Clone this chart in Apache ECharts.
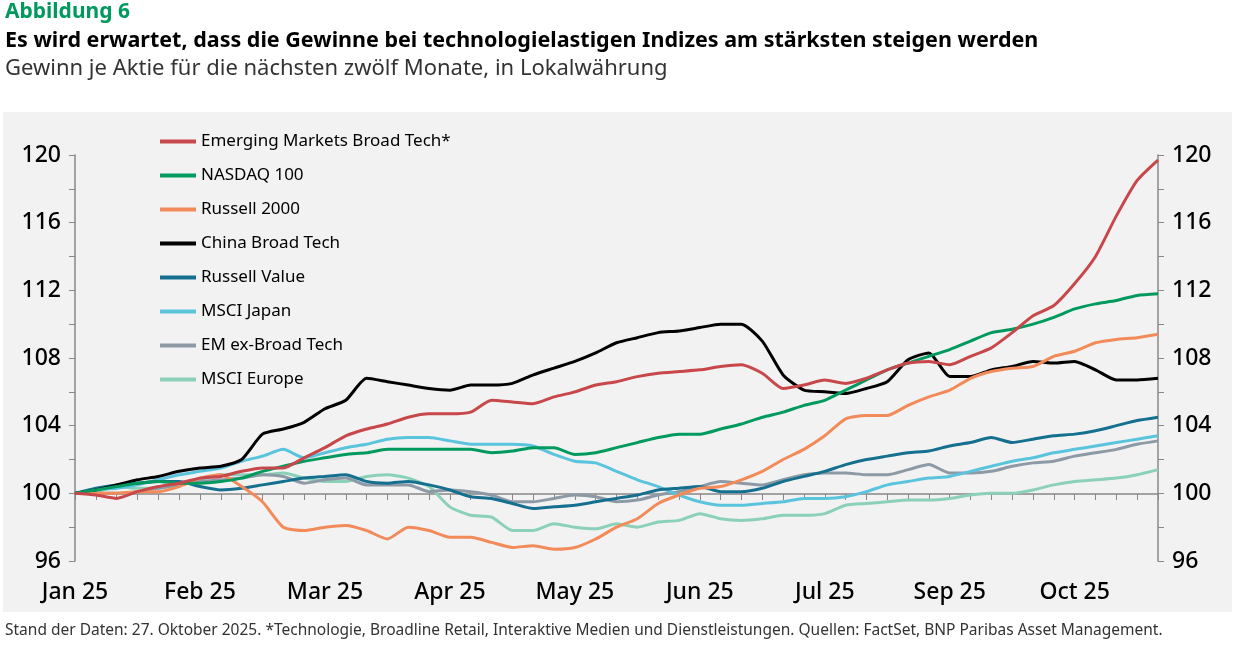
<!DOCTYPE html>
<html>
<head>
<meta charset="utf-8">
<script src="https://cdn.jsdelivr.net/npm/echarts@6/dist/echarts.min.js"></script>
<style>
html,body{margin:0;padding:0;background:#fff;}
#main{width:1234px;height:645px;}
</style>
</head>
<body>
<div id="main"></div>
<script>
var monthNames = ['Jan 25', 'Feb 25', 'Mar 25', 'Apr 25', 'May 25', 'Jun 25', 'Jul 25', 'Sep 25', 'Oct 25'];
var seriesNames = ['Emerging Markets Broad Tech*', 'NASDAQ 100', 'Russell 2000', 'China Broad Tech',
    'Russell Value', 'MSCI Japan', 'EM ex-Broad Tech', 'MSCI Europe'];
var colors = ['#c8474a', '#009a5e', '#f28a5a', '#000000', '#15708f', '#5bc4dd', '#8d9aa5', '#8bd0b8'];

var emTech = [100,99.9,99.7,100.1,100.4,100.6,100.9,101,101.3,101.5,101.5,102.1,102.7,103.4,103.8,104.1,104.5,104.7,104.7,104.8,
    105.5,105.4,105.3,105.7,106,106.4,106.6,106.9,107.1,107.2,107.3,107.5,107.6,107.1,106.2,106.4,106.7,106.5,106.8,107.3,
    107.7,107.8,107.6,108.1,108.6,109.5,110.5,111.1,112.4,114,116.4,118.5,119.7];
var nasdaq = [100,100.2,100.4,100.6,100.7,100.6,100.6,100.7,100.9,101.3,101.6,101.9,102.1,102.3,102.4,102.6,102.6,102.6,102.6,102.6,
    102.4,102.5,102.7,102.7,102.3,102.4,102.7,103,103.3,103.5,103.5,103.8,104.1,104.5,104.8,105.2,105.5,106.1,106.7,107.3,
    107.7,108.1,108.5,109,109.5,109.7,110,110.4,110.9,111.2,111.4,111.7,111.8];
var russell2000 = [100,100,100,100.1,100.1,100.4,100.9,101.1,100.4,99.5,98,97.8,98,98.1,97.8,97.3,98,97.8,97.4,97.4,
    97.1,96.8,96.9,96.7,96.8,97.3,98,98.5,99.4,99.9,100.3,100.4,100.8,101.3,102,102.6,103.4,104.4,104.6,104.6,
    105.2,105.7,106.1,106.8,107.2,107.4,107.5,108.1,108.4,108.9,109.1,109.2,109.4];
var chinaTech = [100,100.2,100.5,100.8,101,101.3,101.5,101.6,102,103.5,103.8,104.2,105,105.5,106.8,106.6,106.4,106.2,106.1,106.4,
    106.4,106.5,107,107.4,107.8,108.3,108.9,109.2,109.5,109.6,109.8,110,110,109,107,106.1,106,105.9,106.2,106.6,
    107.9,108.3,106.9,106.9,107.3,107.5,107.8,107.7,107.8,107.3,106.7,106.7,106.8];
var russellValue = [100,100.3,100.5,100.6,100.7,100.7,100.4,100.2,100.3,100.5,100.7,100.9,101,101.1,100.7,100.6,100.7,100.5,100.2,99.8,
    99.7,99.4,99.1,99.2,99.3,99.5,99.7,99.9,100.2,100.3,100.4,100.1,100.1,100.3,100.7,101,101.3,101.7,102,102.2,
    102.4,102.5,102.8,103,103.3,103,103.2,103.4,103.5,103.7,104,104.3,104.5];
var msciJapan = [100,100.2,100.3,100.5,100.8,101.1,101.3,101.5,101.9,102.2,102.6,102.1,102.4,102.7,102.9,103.2,103.3,103.3,103.1,102.9,
    102.9,102.9,102.8,102.3,101.9,101.8,101.3,100.8,100.4,99.9,99.5,99.3,99.3,99.4,99.5,99.7,99.7,99.8,100.1,100.5,
    100.7,100.9,101,101.3,101.6,101.9,102.1,102.4,102.6,102.8,103,103.2,103.4];
var emExTech = [100,100,100,100.1,100.3,100.5,100.7,100.8,100.9,101.1,101,100.6,100.8,100.9,100.5,100.5,100.5,100.1,100.2,100.1,
    99.9,99.5,99.5,99.7,99.9,99.8,99.5,99.6,99.9,100.1,100.4,100.7,100.6,100.5,100.8,101.1,101.2,101.2,101.1,101.1,
    101.4,101.7,101.2,101.2,101.3,101.6,101.8,101.9,102.2,102.4,102.6,102.9,103.1];
var msciEurope = [100,100.1,100.4,100.3,100.3,100.5,100.8,101.1,101.1,101.1,101.2,100.9,100.7,100.7,101,101.1,100.9,100.4,99.2,98.7,
    98.6,97.8,97.8,98.2,98,97.9,98.2,98,98.3,98.4,98.8,98.5,98.4,98.5,98.7,98.7,98.8,99.3,99.4,99.5,
    99.6,99.6,99.7,99.9,100,100,100.2,100.5,100.7,100.8,100.9,101.1,101.4];
var allData = [emTech, nasdaq, russell2000, chinaTech, russellValue, msciJapan, emExTech, msciEurope];

// category axis: 6 steps per month label
var categories = [];
for (var i = 0; i < 53; i++) {
    categories.push(i % 6 === 0 && monthNames[i / 6] ? monthNames[i / 6] : '');
}

var chart = echarts.init(document.getElementById('main'));
var series = [];
for (var k = 0; k < allData.length; k++) {
    series.push({
        name: seriesNames[k],
        type: 'line',
        data: allData[k],
        showSymbol: false,
        smooth: 0.2,
        lineStyle: {width: 3, color: colors[k]},
        itemStyle: {color: colors[k]},
        z: 10 - k
    });
}

var yAxisBase = {
    type: 'value', min: 96, max: 120, interval: 2,
    splitLine: {show: false},
    axisLine: {show: true, lineStyle: {color: '#888', width: 1.5}},
    axisTick: {show: true, length: 6, lineStyle: {color: '#888'}},
    axisLabel: {
        fontSize: 23, color: '#000', fontFamily: 'Noto Sans', fontWeight: 500, margin: 14,
        formatter: function (v) { return v % 4 === 0 ? v : ''; }
    }
};

var option = {
    animation: false,
    color: colors,
    graphic: [
        {type: 'rect', left: 3, top: 112, shape: {width: 1229, height: 500}, style: {fill: '#f2f2f2'}, z: -10},
        {type: 'text', left: 5, top: 2, style: {text: 'Abbildung 6', fill: '#009a5e', font: 'bold 21px "Noto Sans"'}},
        {type: 'text', left: 5, top: 30, style: {text: 'Es wird erwartet, dass die Gewinne bei technologielastigen Indizes am stärksten steigen werden', fill: '#000', font: 'bold 21.5px "Noto Sans"'}},
        {type: 'text', left: 5, top: 58, style: {text: 'Gewinn je Aktie für die nächsten zwölf Monate, in Lokalwährung', fill: '#333', font: '22px "Noto Sans"'}},
        {type: 'text', left: 5, top: 623, style: {text: 'Stand der Daten: 27. Oktober 2025. *Technologie, Broadline Retail, Interaktive Medien und Dienstleistungen. Quellen: FactSet, BNP Paribas Asset Management.', fill: '#333', font: '15.5px "Noto Sans"'}}
    ],
    legend: {
        orient: 'vertical', left: 155, top: 128, itemGap: 17,
        icon: 'rect', itemWidth: 36, itemHeight: 4,
        textStyle: {fontSize: 17, color: '#000', fontFamily: 'Noto Sans'},
        data: seriesNames
    },
    grid: {left: 75, right: 76, top: 155, bottom: 84},
    xAxis: [{
        type: 'category', data: categories, boundaryGap: false,
        axisLine: {show: false}, axisTick: {show: false},
        axisLabel: {interval: 0, fontSize: 23, color: '#000', fontFamily: 'Noto Sans', fontWeight: 500, margin: 20}
    }, {
        type: 'category', data: categories, boundaryGap: false, position: 'bottom', offset: -67,
        axisLine: {show: true, lineStyle: {color: '#888', width: 1.5}},
        axisTick: {show: true, interval: 0, length: 6, lineStyle: {color: '#888'}},
        axisLabel: {show: false}
    }],
    yAxis: [
        Object.assign({}, yAxisBase, {position: 'left'}),
        Object.assign({}, yAxisBase, {position: 'right'})
    ],
    series: series
};
chart.setOption(option);
</script>
</body>
</html>
